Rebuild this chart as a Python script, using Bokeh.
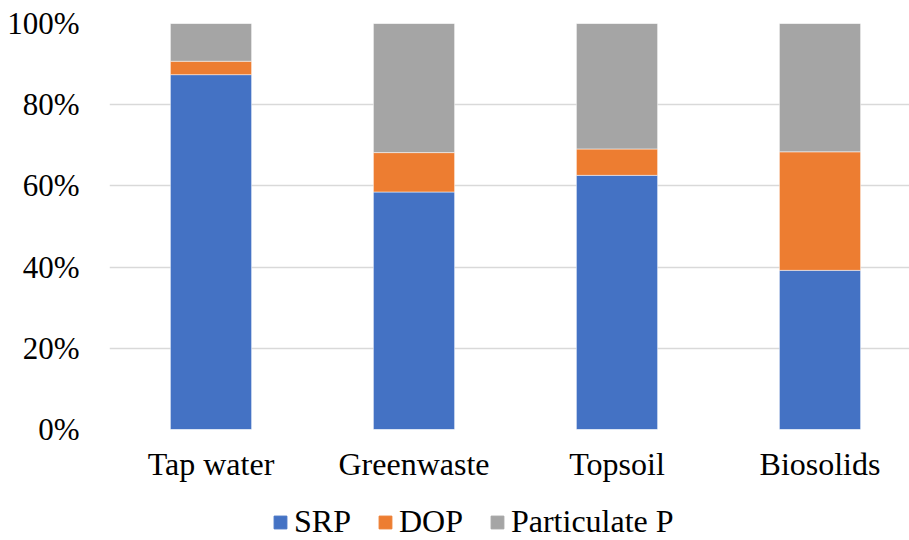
from bokeh.plotting import figure
from bokeh.layouts import column
from bokeh.models import (ColumnDataSource, FixedTicker, NumeralTickFormatter,
                          Range1d, Legend, LegendItem)
from bokeh.embed import file_html
from bokeh.resources import INLINE

categories = ["Tap water", "Greenwaste", "Topsoil", "Biosolids"]
srp = [0.874, 0.585, 0.626, 0.392]
dop = [0.033, 0.097, 0.065, 0.292]
particulate = [0.093, 0.318, 0.309, 0.316]
series_names = ["SRP", "DOP", "Particulate P"]
colors = ["#4472C4", "#ED7D31", "#A5A5A5"]
y_ticks = [0, 0.2, 0.4, 0.6, 0.8, 1.0]

xpos = [1, 2, 3, 4]
src = ColumnDataSource(dict(x=xpos, srp=srp, dop=dop, part=particulate))

FONT = "Liberation Serif"
W = 909

p = figure(width=W, height=484, output_backend="svg", toolbar_location=None,
           x_range=Range1d(0.5, 0.5 + 800 / 203), y_range=Range1d(0, 1),
           min_border_left=109, min_border_right=0, min_border_top=23,
           min_border_bottom=54)
p.outline_line_color = None

r = p.vbar_stack(["srp", "dop", "part"], x="x", width=0.4, source=src,
                 color=colors, line_color="white", line_width=0.5)

p.xgrid.grid_line_color = None
p.ygrid.grid_line_color = "#D9D9D9"
p.ygrid.grid_line_width = 1.5
p.ygrid.ticker = FixedTicker(ticks=y_ticks)

p.yaxis.ticker = FixedTicker(ticks=y_ticks)
p.yaxis.formatter = NumeralTickFormatter(format="0%")
p.xaxis.ticker = FixedTicker(ticks=xpos)
p.xaxis.major_label_overrides = {x: c for x, c in zip(xpos, categories)}

for ax in (p.xaxis[0], p.yaxis[0]):
    ax.axis_line_color = None
    ax.major_tick_line_color = None
    ax.minor_tick_line_color = None
    ax.major_tick_in = 0
    ax.major_tick_out = 0
    ax.major_label_text_font = FONT
    ax.major_label_text_color = "black"
p.yaxis.major_label_text_font_size = "31px"
p.xaxis.major_label_text_font_size = "32px"
p.yaxis.major_label_standoff = 30
p.xaxis.major_label_standoff = 16

# legend strip (its bars lie outside its ranges; only the legend shows)
lg = figure(width=W, height=56, output_backend="svg", toolbar_location=None,
            x_range=Range1d(0, 1), y_range=Range1d(20, 21),
            x_axis_type=None, y_axis_type=None,
            min_border_left=0, min_border_right=0, min_border_top=0,
            min_border_bottom=0)
lg.outline_line_color = None
lg.border_fill_color = None
lg.background_fill_color = None
lg.xgrid.grid_line_color = None
lg.ygrid.grid_line_color = None
legend_renderers = lg.vbar_stack(["srp", "dop", "part"], x="x", width=0.4,
                                 source=src, color=colors)

legend = Legend(items=[LegendItem(label=n, renderers=[rr])
                       for n, rr in zip(series_names, legend_renderers)],
                orientation="horizontal", location=(163, 0),
                label_text_font=FONT, label_text_font_size="32px",
                label_text_color="black", label_text_line_height=0.8,
                glyph_width=16, glyph_height=16, label_standoff=6, spacing=26,
                border_line_color=None, background_fill_alpha=0,
                padding=0, margin=0)
lg.add_layout(legend, "center")

layout = column(p, lg, spacing=0)
open("out.html", "w").write(file_html(layout, INLINE))
